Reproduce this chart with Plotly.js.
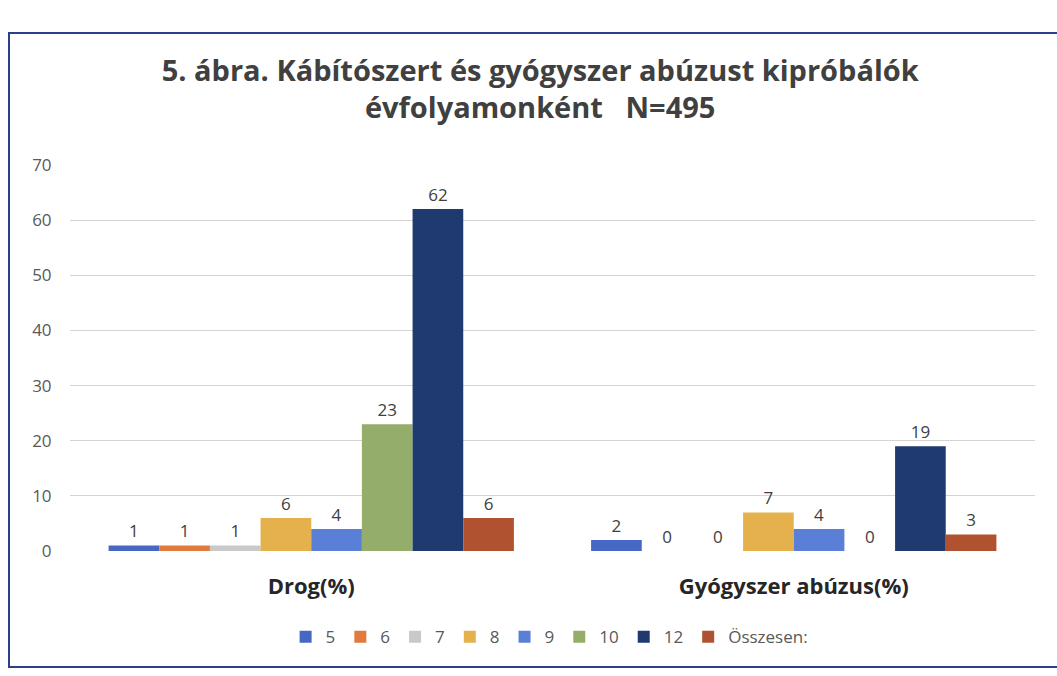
<!DOCTYPE html>
<html>
<head>
<meta charset="utf-8">
<script src="https://cdn.plot.ly/plotly-3.0.1.min.js"></script>
<style>
  html, body { margin: 0; padding: 0; width: 1057px; height: 676px; overflow: hidden; background: #ffffff; }
  #frame { position: absolute; left: 8px; top: 32px; width: 1100px; height: 632px; border: 2px solid #2B3F8C; border-right: none; }
  #chart { width: 1100px; height: 632px; }
</style>
</head>
<body>
<div id="frame"><div id="chart"></div></div>
<script>
const categories = ["Drog(%)", "Gyógyszer abúzus(%)"];
const seriesNames = ["5", "6", "7", "8", "9", "10", "12", "Összesen:"];
const drogValues = [1, 1, 1, 6, 4, 23, 62, 6];
const gyogyszerValues = [2, 0, 0, 7, 4, 0, 19, 3];
const seriesColors = ["#4668C4", "#E07A3E", "#C9C9C9", "#E4B14C", "#5A7FD6", "#94AD6A", "#1F3A6E", "#B0522F"];
const yTicks = [0, 10, 20, 30, 40, 50, 60, 70];

const fontFam = "'Open Sans', 'Noto Sans', sans-serif";

const traces = seriesNames.map((name, i) => ({
  type: "bar",
  name: name,
  x: categories,
  y: [drogValues[i], gyogyszerValues[i]],
  text: [String(drogValues[i]), String(gyogyszerValues[i])],
  textposition: "outside",
  cliponaxis: false,
  textfont: { family: fontFam, size: 17, color: "#404040" },
  marker: { color: seriesColors[i] },
  hoverinfo: "name+y"
}));

const layout = {
  width: 1100,
  height: 632,
  margin: { l: 60, r: 75, t: 131, b: 114 },
  paper_bgcolor: "#ffffff",
  plot_bgcolor: "#ffffff",
  font: { family: fontFam, color: "#404040" },
  title: {
    text: "<b>5. ábra. Kábítószert és gyógyszer abúzust kipróbálók<br>évfolyamonként   N=495</b>",
    font: { family: fontFam, size: 29, color: "#404040" },
    xref: "container", x: 0.482, xanchor: "center",
    yref: "container", y: 0.926, yanchor: "middle"
  },
  barmode: "group",
  bargap: 0.16,
  bargroupgap: 0,
  xaxis: {
    type: "category",
    showgrid: false,
    zeroline: false,
    showline: false,
    ticks: "outside",
    ticklen: 16,
    tickcolor: "rgba(0,0,0,0)",
    tickfont: { family: fontFam, size: 22, color: "#262626" },
    tickprefix: "<b>", ticksuffix: "</b>"
  },
  yaxis: {
    range: [0, 70],
    tickvals: yTicks,
    ticktext: yTicks.map(String),
    showgrid: true,
    gridcolor: "#D4D4D4",
    gridwidth: 1,
    zeroline: false,
    showline: false,
    ticks: "outside",
    ticklen: 14,
    tickcolor: "rgba(0,0,0,0)",
    tickfont: { family: fontFam, size: 17, color: "#595959" }
  },
  showlegend: true,
  legend: {
    orientation: "h",
    x: 0.497, xanchor: "center",
    y: -0.22, yanchor: "middle",
    font: { family: fontFam, size: 17, color: "#595959" },
    itemwidth: 30,
    tracegroupgap: 0
  }
};

Plotly.newPlot("chart", traces, layout, { displayModeBar: false, staticPlot: true });
</script>
</body>
</html>
